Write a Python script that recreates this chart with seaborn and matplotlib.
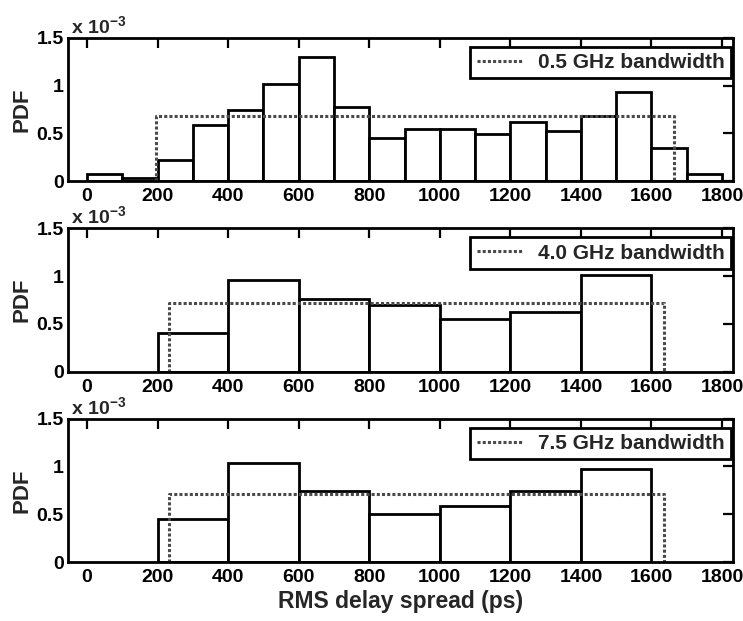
import matplotlib
matplotlib.use("Agg")
import matplotlib.pyplot as plt
import seaborn as sns
from matplotlib.lines import Line2D

# Bin edges of the delay-spread histograms (ps)
edges_05 = list(range(0, 1801, 100))
edges_40 = list(range(200, 1601, 200))
edges_75 = list(range(200, 1601, 200))

# Empirical PDF per bin, in units of 1e-3 / ps
pdf_05 = [0.072, 0.032, 0.22, 0.586, 0.74, 1.018, 1.30, 0.78, 0.454,
          0.55, 0.55, 0.496, 0.62, 0.53, 0.686, 0.936, 0.346, 0.075]
pdf_40 = [0.40, 0.96, 0.757, 0.70, 0.55, 0.625, 1.01]
pdf_75 = [0.45, 1.035, 0.748, 0.507, 0.59, 0.748, 0.975]

# Fitted uniform PDF: start (ps), end (ps), level (1e-3 / ps)
uni_05 = (195, 1665, 0.68)
uni_40 = (233, 1635, 0.713)
uni_75 = (233, 1635, 0.713)

legend_labels = ["0.5 GHz bandwidth", "4.0 GHz bandwidth", "7.5 GHz bandwidth"]
x_ticks = list(range(0, 1801, 200))
y_ticks = [0, 0.5, 1, 1.5]
y_tick_labels = ["0", "0.5", "1", "1.5"]

sns.set_theme(style="white")
plt.rcParams["font.family"] = ["Liberation Sans", "DejaVu Sans"]
plt.rcParams["font.weight"] = "bold"
plt.rcParams["mathtext.fontset"] = "custom"
plt.rcParams["mathtext.rm"] = "Liberation Sans:bold"
plt.rcParams["mathtext.bf"] = "Liberation Sans:bold"

fig, axes = plt.subplots(3, 1, figsize=(7.43, 6.21), dpi=100)
fig.subplots_adjust(left=0.0915, right=0.9865, top=0.939, bottom=0.095, hspace=0.329)

dot_style = (0, (1, 0.7))
dot_color = "#4a4a4a"

for ax, edges, pdf, uni, lab in zip(axes, [edges_05, edges_40, edges_75],
                                    [pdf_05, pdf_40, pdf_75],
                                    [uni_05, uni_40, uni_75], legend_labels):
    centers = [(a + b) / 2 for a, b in zip(edges[:-1], edges[1:])]
    sns.histplot(x=centers, weights=pdf, bins=edges, stat="count", ax=ax,
                 fill=True, color="white", edgecolor="black", linewidth=2.0,
                 alpha=1)
    a, b, h = uni
    sns.lineplot(x=[a, a, b, b], y=[0, h, h, 0], sort=False, estimator=None,
                 ax=ax, color=dot_color, linestyle=dot_style, linewidth=2.2)

    ax.set_xlim(-54, 1831)
    ax.set_ylim(0, 1.5)
    ax.set_xticks(x_ticks)
    ax.set_xticklabels([str(t) for t in x_ticks])
    ax.set_yticks(y_ticks)
    ax.set_yticklabels(y_tick_labels)
    ax.tick_params(direction="in", top=True, right=True, length=7, width=1.6,
                   labelsize=14, pad=3, colors="black")
    ax.tick_params(axis="x", pad=5)
    for sp in ax.spines.values():
        sp.set_linewidth(2.0)
        sp.set_color("black")
    ax.set_ylabel("PDF", fontsize=16, fontweight="bold", labelpad=3)
    ax.set_xlabel("")
    ax.text(0.004, 1.0, r"x 10$^{-3}$", transform=ax.transAxes,
            ha="left", va="bottom", fontsize=14, fontweight="bold")

    handle = Line2D([], [], color=dot_color, linestyle=dot_style, linewidth=2.2)
    leg = ax.legend([handle], [lab], loc="upper right",
                    bbox_to_anchor=(0.997, 0.937), borderaxespad=0,
                    fontsize=15, handlelength=2.2, handletextpad=0.75,
                    borderpad=0.3, fancybox=False, framealpha=1,
                    edgecolor="black")
    leg.get_frame().set_linewidth(2.0)
    for t in leg.get_texts():
        t.set_fontweight("bold")

axes[-1].set_xlabel("RMS delay spread (ps)", fontsize=16.5, fontweight="bold",
                    labelpad=3)

fig.savefig("out.png", dpi=100)
